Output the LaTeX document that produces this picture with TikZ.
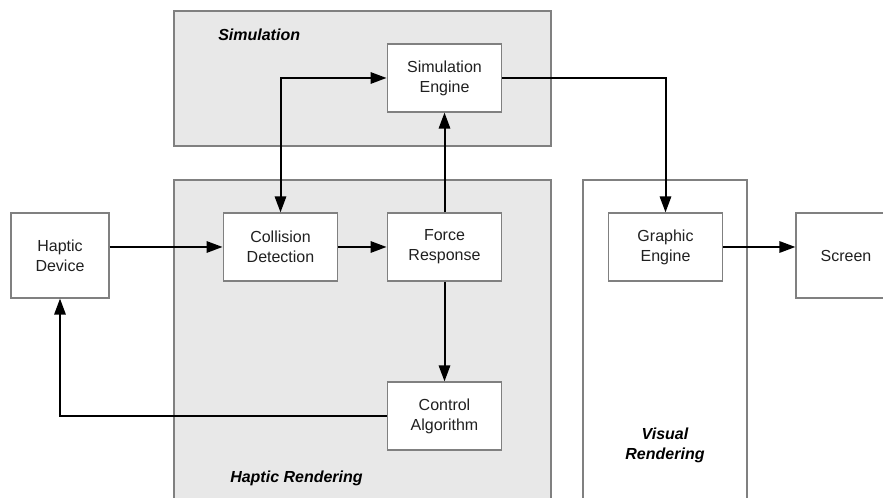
\documentclass[tikz,border=0pt]{standalone}
\usepackage{fontspec}
\setmainfont{Liberation Sans}
\usetikzlibrary{arrows.meta}
\definecolor{regionfill}{HTML}{E8E8E8}
\definecolor{edgegray}{HTML}{808080}
\definecolor{textgray}{HTML}{202020}
\begin{document}
\begin{tikzpicture}
            [x=0.75pt, y=-0.75pt,
            block/.style={draw=edgegray, fill=white, line width=0.9pt, minimum width=86pt, minimum height=51pt, align=center, inner sep=0pt, text=textgray, font=\fontsize{12}{15}\selectfont},
            region/.style={draw=edgegray, line width=0.9pt},
            title/.style={font=\fontsize{12}{15}\selectfont\bfseries\itshape, inner sep=0pt, align=center},
            flow/.style={black, line width=1.5pt, -{Triangle[length=12pt, width=8.5pt]}},
            both/.style={black, line width=1.5pt, {Triangle[length=12pt, width=8.5pt]}-{Triangle[length=12pt, width=8.5pt]}}]

            \useasboundingbox (0,0) rectangle (883,498);
            \clip (0,0) rectangle (883,498);

            % Regions
            \draw[region, fill=regionfill] (174,11) rectangle (551,146);
            \draw[region, fill=regionfill] (174,180) rectangle (551,510);
            \draw[region, fill=white] (583,180) rectangle (747,510);

            % Labels for the regions
            \node[title, anchor=west] (simlabel) at (218,35) {Simulation};
            \node[title, anchor=west] (haptlabel) at (230,478) {Haptic Rendering};
            \node[title] (vislabel) at (665,445) {Visual\\Rendering};

            \node[block] (simeng) at (444.5,78) {Simulation\\Engine};
            \node[block] (colldet) at (280.5,247) {Collision\\Detection};
            \node[block] (forceresp) at (444.5,247) {Force\\Response};
            \node[block] (ctrlalg) at (444.5,416) {Control\\Algorithm};
            \node[block] (grapheng) at (665.5,247) {Graphic\\Engine};
            \node[block, minimum width=73.5pt, minimum height=63.75pt] (haptdev) at (60,255.5) {Haptic\\Device};
            \node[block, minimum width=75pt, minimum height=63.75pt] (screen) at (846,255.5) {Screen};

            \draw[flow] (haptdev.east |- colldet.west) -- (colldet.west);
            \draw[flow] (colldet) -- (forceresp);
            \draw[flow] (forceresp) -- (simeng);
            \draw[both] (colldet.north) |- (simeng.west);
            \draw[flow] (simeng.east) -| (grapheng.north);
            \draw[flow] (grapheng.east) -- (screen.west |- grapheng.east);
            \draw[flow] (forceresp) -- (ctrlalg);
            \draw[flow] (ctrlalg.west) -| (haptdev.south);

        \end{tikzpicture}
\end{document}
